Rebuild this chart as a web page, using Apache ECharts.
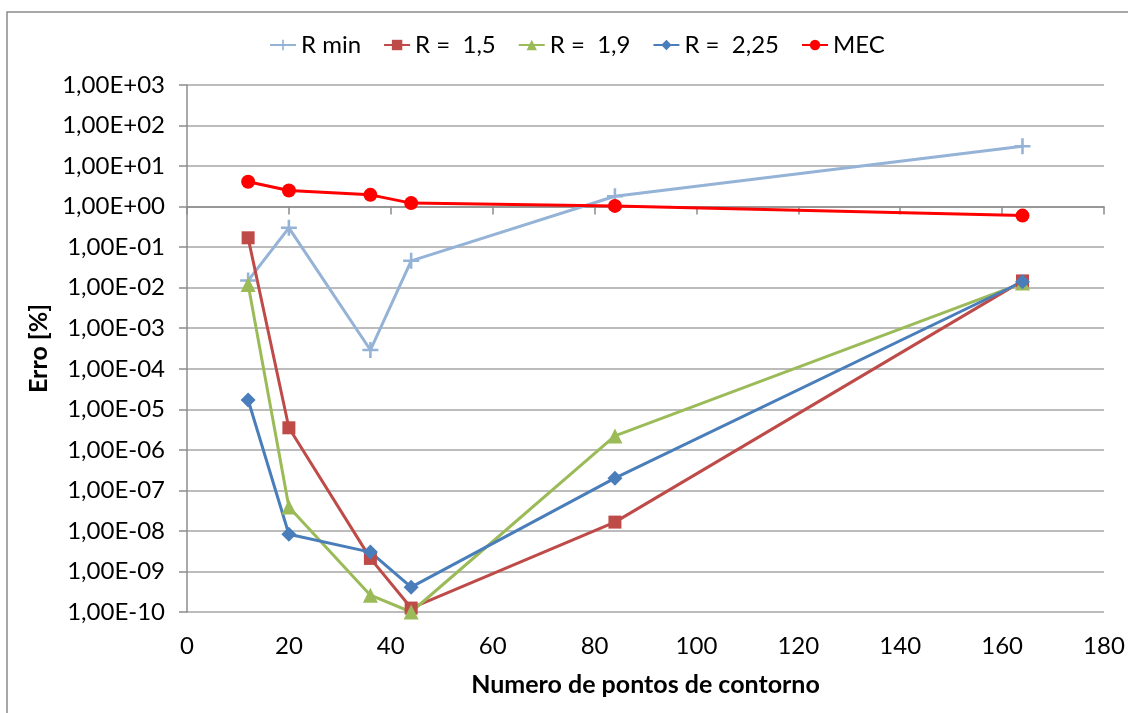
<!DOCTYPE html>
<html><head><meta charset="utf-8">
<script src="https://cdn.jsdelivr.net/npm/echarts@6/dist/echarts.min.js"></script>
<style>html,body{margin:0;padding:0;background:#fff}#c{width:1128px;height:713px}</style>
</head><body><div id="c"></div>
<script>
const xPoints = [12, 20, 36, 44, 84, 164];
const rMin   = [1.5e-2, 3.0e-1, 2.9e-4, 4.6e-2, 1.8, 31];
const r15    = [1.7e-1, 3.5e-6, 2.1e-9, 1.25e-10, 1.65e-8, 1.47e-2];
const r19    = [1.2e-2, 3.9e-8, 2.6e-10, 1.0e-10, 2.2e-6, 1.3e-2];
const r225   = [1.7e-5, 8.3e-9, 3.0e-9, 4.1e-10, 2.0e-7, 1.4e-2];
const mec    = [4.1, 2.5, 1.95, 1.22, 1.04, 0.6];
const seriesNames = ['R min', 'R =  1,5', 'R =  1,9', 'R =  2,25', 'MEC'];
const xTicks = {min: 0, max: 180, interval: 20};
const yRange = {min: 1e-10, max: 1e3};

const FONT = 'Lato';
const pair = arr => xPoints.map((x, i) => [x, arr[i]]);
const plus = 'path://M4.2,0H5.8V4.2H10V5.8H5.8V10H4.2V5.8H0V4.2H4.2Z';
function fmt(v) {
  const e = Math.round(Math.log10(v));
  const s = e < 0 ? '-' : '+';
  const a = Math.abs(e);
  return '1,00E' + s + (a < 10 ? '0' + a : a);
}
const mk = (name, data, color, symbol, size) => ({
  name, type: 'line', data: pair(data), xAxisIndex: 0, yAxisIndex: 0,
  symbol, symbolSize: size, showSymbol: true,
  lineStyle: {color, width: 3}, itemStyle: {color, borderWidth: 0},
  emphasis: {disabled: true}, z: 3
});
const chart = echarts.init(document.getElementById('c'));
chart.setOption({
  animation: false,
  backgroundColor: '#fff',
  textStyle: {fontFamily: FONT},
  graphic: [{type: 'rect', shape: {x: 7, y: 12, width: 1200, height: 800},
    style: {fill: 'none', stroke: '#8c8c8c', lineWidth: 1.5}, z: -1}],
  legend: {
    top: 28, left: 264, itemWidth: 26, itemHeight: 13, itemGap: 22,
    textStyle: {fontFamily: FONT, fontSize: 24, color: '#000'},
    data: seriesNames
  },
  grid: [
    {left: 187, right: 24, top: 85, bottom: 101},
    {left: 187, right: 24, top: 85, bottom: 713 - 206.6}
  ],
  xAxis: [
    {type: 'value', gridIndex: 0, min: xTicks.min, max: xTicks.max, interval: xTicks.interval,
     axisLine: {show: false}, axisTick: {show: false}, splitLine: {show: false},
     axisLabel: {fontFamily: FONT, fontSize: 24, color: '#000', margin: 22},
     name: 'Numero de pontos de contorno', nameLocation: 'middle', nameGap: 60,
     nameTextStyle: {fontFamily: FONT, fontSize: 25, fontWeight: 'bold', color: '#000'}},
    {type: 'value', gridIndex: 1, min: xTicks.min, max: xTicks.max, interval: xTicks.interval,
     axisLine: {show: true, lineStyle: {color: '#8c8c8c', width: 1.5}},
     axisTick: {show: true, length: 8, lineStyle: {color: '#8c8c8c', width: 1.5}},
     axisLabel: {show: false}, splitLine: {show: false}}
  ],
  yAxis: [
    {type: 'log', gridIndex: 0, logBase: 10, min: yRange.min, max: yRange.max,
     interval: 1, splitNumber: 13,
     axisLine: {show: true, lineStyle: {color: '#8c8c8c', width: 1.5}},
     axisTick: {show: true, length: 8, lineStyle: {color: '#8c8c8c', width: 1.5}},
     splitLine: {show: true, lineStyle: {color: '#a6a6a6', width: 1.5}},
     minorTick: {show: false},
     axisLabel: {fontFamily: FONT, fontSize: 24, color: '#000', margin: 22, formatter: fmt},
     name: 'Erro [%]', nameLocation: 'middle', nameGap: 130, nameRotate: 90,
     nameTextStyle: {fontFamily: FONT, fontSize: 25, fontWeight: 'bold', color: '#000'}},
    {type: 'value', gridIndex: 1, show: false, min: 0, max: 1}
  ],
  series: [
    mk(seriesNames[0], rMin, '#95B3D7', plus, 16),
    mk(seriesNames[1], r15, '#BE4B48', 'rect', 13),
    mk(seriesNames[2], r19, '#9BBB59', 'triangle', 15),
    mk(seriesNames[3], r225, '#4A7EBB', 'diamond', 15),
    mk(seriesNames[4], mec, '#FF0000', 'circle', 14)
  ]
});
</script></body></html>
